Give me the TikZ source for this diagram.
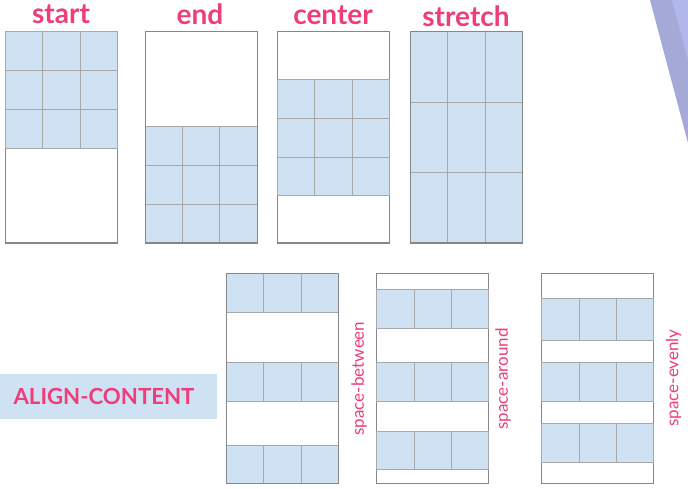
\documentclass[tikz,border=0pt]{standalone}
\usepackage{fontspec}
\setmainfont{Lato}
\usepackage{tikz}
\usetikzlibrary{positioning}
\definecolor{rose}{HTML}{EF3D7B}
\definecolor{cellblue}{HTML}{CFE2F3}
\definecolor{cellgray}{HTML}{A8A8A8}
\definecolor{boxgray}{HTML}{878787}
\definecolor{lilac}{HTML}{A5A9D8}
\definecolor{lilaclight}{HTML}{B2B7EB}

\begin{document}
\begin{tikzpicture}[x=1pt,y=-1pt,
    box/.style={draw=boxgray,fill=white,line width=1pt},
    band/.style={draw=cellgray,fill=cellblue,line width=1pt},
    sep/.style={draw=cellgray,line width=1pt},
    title/.style={text=rose,font=\bfseries\fontsize{28}{30}\selectfont,inner sep=0pt},
    side/.style={text=rose,font=\fontsize{17}{19}\selectfont,rotate=90,inner sep=0pt}]
    \useasboundingbox (0,0) rectangle (688,489);

    \fill[lilac]      (650,0) -- (688,143) -- (688,0) -- cycle;
    \fill[lilaclight] (672,0) -- (688,60)  -- (688,0) -- cycle;

    \node[title] (start)   at (61,14)  {start};
    \node[title] (end)     at (200,14) {end};
    \node[title] (center)  at (333,15) {center};
    \node[title] (stretch) at (466,16) {stretch};

    \draw[box]  (5,32) rectangle (117,243);
    \draw[band] (5,32)    rectangle (117,70.7);
    \draw[band] (5,70.7)  rectangle (117,109.3);
    \draw[band] (5,109.3) rectangle (117,148.3);
    \draw[sep]  (42.3,32) -- (42.3,148.3) (80,32) -- (80,148.3);

    \draw[box]  (145,32) rectangle (257,243);
    \draw[band] (145,127)   rectangle (257,165.7);
    \draw[band] (145,165.7) rectangle (257,204.3);
    \draw[band] (145,204.3) rectangle (257,243);
    \draw[sep]  (182.3,127) -- (182.3,243) (219.7,127) -- (219.7,243);
    \draw[boxgray,line width=1pt] (145,32) rectangle (257,243);

    \draw[box]  (277.3,32) rectangle (389.3,243);
    \draw[band] (277.3,80)    rectangle (389.3,118.3);
    \draw[band] (277.3,118.3) rectangle (389.3,157.3);
    \draw[band] (277.3,157.3) rectangle (389.3,195.7);
    \draw[sep]  (314.7,80) -- (314.7,195.7) (352,80) -- (352,195.7);

    \draw[box]  (410,32) rectangle (522.3,243);
    \draw[band] (410,32)    rectangle (522.3,102.3);
    \draw[band] (410,102.3) rectangle (522.3,172.3);
    \draw[band] (410,172.3) rectangle (522.3,243);
    \draw[sep]  (447.3,32) -- (447.3,243) (485,32) -- (485,243);
    \draw[boxgray,line width=1pt] (410,32) rectangle (522.3,243);

    \fill[cellblue] (0,374) rectangle (216.7,419.3);
    \node[text=rose,font=\bfseries\fontsize{22.2}{24}\selectfont,inner sep=0pt] (align) at (104,396.5) {ALIGN-CONTENT};

    \draw[box]  (226,273.3) rectangle (338.3,483.3);
    \draw[band] (226,273.3) rectangle (338.3,312.3);
    \draw[band] (226,362.7) rectangle (338.3,401.7);
    \draw[band] (226,445)   rectangle (338.3,483.3);
    \draw[sep]  (263.3,273.3) -- (263.3,312.3) (301,273.3) -- (301,312.3)
                (263.3,362.7) -- (263.3,401.7) (301,362.7) -- (301,401.7)
                (263.3,445) -- (263.3,483.3)   (301,445) -- (301,483.3);
    \draw[boxgray,line width=1pt] (226,273.3) rectangle (338.3,483.3);
    \node[side] (between) at (359,378.5) {space-between};

    \draw[box]  (376.7,273.3) rectangle (488.7,483.3);
    \draw[band] (376.7,289.3) rectangle (488.7,328.3);
    \draw[band] (376.7,362.7) rectangle (488.7,401.7);
    \draw[band] (376.7,431)   rectangle (488.7,469.3);
    \draw[sep]  (414.3,289.3) -- (414.3,328.3) (451.7,289.3) -- (451.7,328.3)
                (414.3,362.7) -- (414.3,401.7) (451.7,362.7) -- (451.7,401.7)
                (414.3,431) -- (414.3,469.3)   (451.7,431) -- (451.7,469.3);
    \node[side] (around) at (503,379) {space-around};

    \draw[box]  (541.3,273.3) rectangle (653.3,483.3);
    \draw[band] (541.3,298.3) rectangle (653.3,340.7);
    \draw[band] (541.3,362.7) rectangle (653.3,401.7);
    \draw[band] (541.3,423.7) rectangle (653.3,462.3);
    \draw[sep]  (579,298.3) -- (579,340.7) (616.7,298.3) -- (616.7,340.7)
                (579,362.7) -- (579,401.7) (616.7,362.7) -- (616.7,401.7)
                (579,423.7) -- (579,462.3) (616.7,423.7) -- (616.7,462.3);
    \node[side] (evenly) at (673.5,378) {space-evenly};
\end{tikzpicture}
\end{document}
